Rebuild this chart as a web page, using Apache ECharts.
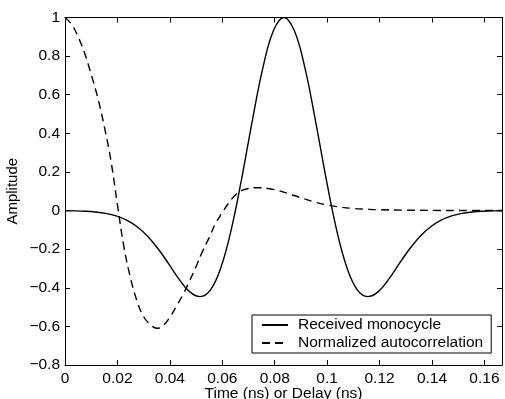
<!DOCTYPE html>
<html>
<head>
<meta charset="utf-8">
<script src="https://cdn.jsdelivr.net/npm/echarts@6/dist/echarts.min.js"></script>
<style>
  html, body { margin: 0; padding: 0; background: #fff; }
  #chart { width: 505px; height: 399px; }
</style>
</head>
<body>
<div id="chart"></div>
<script>
// Received monocycle (solid)
const pulseTime = [0, 0.0035, 0.0075, 0.0115, 0.0155, 0.0195, 0.0235, 0.0275, 0.0315, 0.0355,
  0.0395, 0.0435, 0.0475, 0.0515, 0.0555, 0.0595, 0.0635, 0.0675, 0.0715, 0.0755, 0.0795,
  0.0835, 0.0875, 0.0915, 0.0955, 0.0995, 0.1035, 0.1075, 0.1115, 0.1155, 0.1195, 0.1235,
  0.1275, 0.1315, 0.1355, 0.1395, 0.1435, 0.1475, 0.1515, 0.1555, 0.1595, 0.1635, 0.1667];
const pulseAmp = [-0.0007, -0.0015, -0.0034, -0.0073, -0.0146, -0.0276, -0.0495, -0.0837, -0.133, -0.198,
  -0.275, -0.355, -0.420, -0.446, -0.411, -0.294, -0.094, 0.173, 0.469, 0.740, 0.931,
  1, 0.931, 0.740, 0.469, 0.173, -0.094, -0.294, -0.411, -0.446, -0.420, -0.355,
  -0.275, -0.198, -0.133, -0.0837, -0.0495, -0.0276, -0.0146, -0.0073, -0.0034, -0.0015, -0.0007];

// Normalized autocorrelation (dashed)
const corrDelay = [0, 0.0025, 0.005, 0.0075, 0.01, 0.0125, 0.015, 0.0175, 0.02, 0.0225, 0.025,
  0.0275, 0.03, 0.0325, 0.035, 0.0375, 0.04, 0.0425, 0.045, 0.0475, 0.05, 0.0525, 0.055,
  0.0575, 0.06, 0.0625, 0.065, 0.0675, 0.07, 0.0725, 0.075, 0.0775, 0.08, 0.085, 0.09,
  0.095, 0.1, 0.105, 0.11, 0.115, 0.12, 0.13, 0.14, 0.15, 0.1667];
const corrAmp = [1, 0.965, 0.9, 0.815, 0.705, 0.584, 0.435, 0.26, 0.03, -0.19, -0.35,
  -0.47, -0.55, -0.59, -0.61, -0.595, -0.552, -0.495, -0.435, -0.365, -0.29, -0.21, -0.14,
  -0.065, -0.01, 0.04, 0.081, 0.104, 0.114, 0.118, 0.118, 0.114, 0.108, 0.089, 0.066,
  0.045, 0.029, 0.018, 0.011, 0.007, 0.004, 0.002, 0.001, 0, 0];

const xTicks = [0, 0.02, 0.04, 0.06, 0.08, 0.1, 0.12, 0.14, 0.16];
const yTicks = [-0.8, -0.6, -0.4, -0.2, 0, 0.2, 0.4, 0.6, 0.8, 1];

const chart = echarts.init(document.getElementById('chart'), null, { renderer: 'canvas' });

const font = 'Liberation Sans, Arial, Helvetica, sans-serif';
const fmtX = v => {
  const hit = xTicks.find(t => Math.abs(t - v) < 1e-9);
  return hit === undefined ? '' : String(hit);
};
const fmtY = v => {
  const hit = yTicks.find(t => Math.abs(t - v) < 1e-9);
  return hit === undefined ? '' : String(hit).replace('-', '\u2212');
};

const frameAxis = {
  axisLine: { show: true, onZero: false, lineStyle: { color: '#000', width: 1 } },
  axisTick: { show: true, inside: true, length: 5, lineStyle: { color: '#000', width: 1 } },
  splitLine: { show: false }
};

const option = {
  animation: false,
  backgroundColor: '#fff',
  textStyle: { fontFamily: font },
  grid: { left: 65, right: 3, top: 17.5, bottom: 34, outerBoundsMode: 'none', containLabel: false },
  legend: {
    left: 252, top: 315,
    orient: 'vertical',
    backgroundColor: '#fff',
    borderColor: '#000', borderWidth: 1, borderRadius: 0,
    padding: [2, 8, 2, 9],
    itemGap: 2,
    itemWidth: 26, itemHeight: 14,
    itemStyle: { opacity: 0 },
    textStyle: { color: '#000', fontSize: 15.5, fontFamily: font, padding: [0, 0, 0, 5] },
    data: ['Received monocycle', 'Normalized autocorrelation']
  },
  xAxis: [
    Object.assign({
      type: 'value', position: 'bottom',
      min: 0, max: 0.1667, interval: 0.02,
      name: 'Time (ns) or Delay (ns)', nameLocation: 'middle', nameGap: 21,
      nameMoveOverlap: false,
      nameTextStyle: { color: '#000', fontSize: 15.5, fontFamily: font },
      axisLabel: { color: '#000', fontSize: 15.5, margin: 6, formatter: fmtX, showMaxLabel: false }
    }, frameAxis),
    Object.assign({
      type: 'value', position: 'top',
      min: 0, max: 0.1667, interval: 0.02,
      axisLabel: { show: false }
    }, frameAxis)
  ],
  yAxis: [
    Object.assign({
      type: 'value', position: 'left',
      min: -0.8, max: 1, interval: 0.2,
      name: 'Amplitude', nameLocation: 'middle', nameGap: 45,
      nameMoveOverlap: false,
      nameTextStyle: { color: '#000', fontSize: 15, fontFamily: font },
      axisLabel: { color: '#000', fontSize: 15.5, margin: 5, formatter: fmtY }
    }, frameAxis),
    Object.assign({
      type: 'value', position: 'right',
      min: -0.8, max: 1, interval: 0.2,
      axisLabel: { show: false }
    }, frameAxis)
  ],
  series: [
    {
      name: 'Received monocycle',
      type: 'line',
      data: pulseTime.map((t, i) => [t, pulseAmp[i]]),
      showSymbol: false, symbol: 'none',
      smooth: 0.4,
      color: '#000',
      lineStyle: { color: '#000', width: 1.4, type: 'solid' }
    },
    {
      name: 'Normalized autocorrelation',
      type: 'line',
      data: corrDelay.map((t, i) => [t, corrAmp[i]]),
      showSymbol: false, symbol: 'none',
      smooth: 0.4,
      color: '#000',
      lineStyle: { color: '#000', width: 1.4, type: [8, 5] }
    }
  ]
};

chart.setOption(option);
</script>
</body>
</html>
